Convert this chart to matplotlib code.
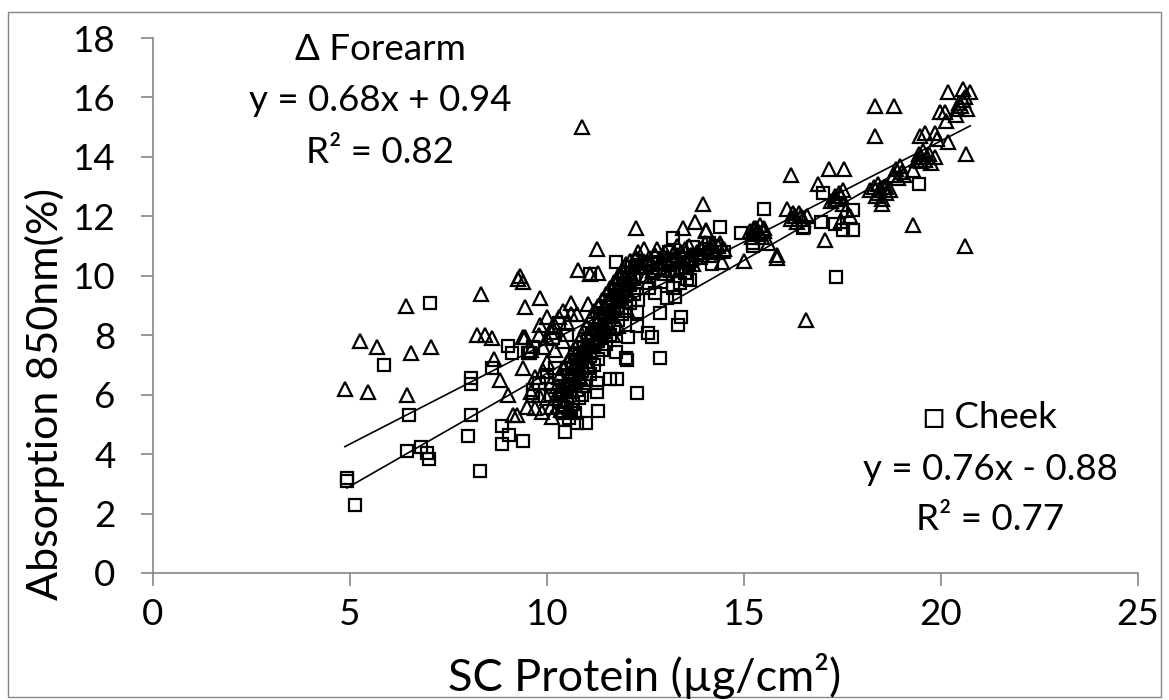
import matplotlib
matplotlib.use("Agg")
import matplotlib.pyplot as plt
from matplotlib.patches import Rectangle

# ---------------- data ----------------
forearm_x = [
    4.87, 5.25, 5.46, 5.69, 6.42, 6.45, 6.55, 7.06, 8.22, 8.43,
    8.32, 8.60, 8.66, 8.81, 9.00, 9.14, 9.23, 9.27, 9.31, 9.39,
    9.44, 9.82, 9.39, 9.80, 9.82, 9.49, 9.70, 9.87, 10.13, 9.39,
    9.70, 9.44, 9.60, 10.13, 10.00, 10.60, 10.79, 11.04, 11.09, 11.27,
    11.29, 10.76, 10.90, 12.26,
    10.20, 10.25, 10.30, 10.30, 10.35, 10.40, 10.40, 10.45, 10.50, 10.50,
    10.55, 10.60, 10.60, 10.65, 10.70, 10.70, 10.75, 10.80, 10.80, 10.85,
    10.90, 10.90, 10.95, 11.00, 11.00, 11.05, 11.10, 11.10, 11.15, 11.20,
    11.20, 11.25, 11.30, 11.30, 11.35, 11.40, 11.40, 11.45, 11.50, 11.50,
    11.55, 11.60, 11.60, 11.65, 11.70, 11.70, 11.75, 11.80, 11.80, 11.85,
    11.90, 11.90, 11.95, 12.00, 12.00, 12.05, 12.10, 12.10, 12.20, 12.25,
    9.90, 10.00, 10.10, 10.20, 10.30, 10.40, 10.50, 10.60, 10.20, 10.40,
    9.60, 9.80, 10.00, 10.10, 9.90, 10.00, 10.10, 10.35, 10.55,
    12.03, 12.56, 12.30, 12.40, 12.50, 12.60, 12.70, 12.80, 12.90, 13.00,
    13.00, 13.10, 13.20, 13.25, 13.30, 13.35, 13.40, 13.45, 13.50, 13.55,
    13.60, 13.70, 13.76, 13.96, 13.80, 14.00, 14.05, 14.10, 14.20, 14.30,
    14.40, 14.44, 14.04, 14.50, 14.03, 11.67, 11.80,
    15.00, 15.15, 15.20, 15.25, 15.30, 15.35, 15.40, 15.45, 15.50, 15.60,
    15.84, 15.84, 16.09, 16.20, 16.20, 16.30, 16.35, 16.40, 16.50, 16.57,
    16.60, 17.06, 17.16, 17.54, 16.88, 17.20, 17.30, 17.36, 17.40, 17.50,
    17.50, 17.60, 17.70, 17.45, 18.20, 18.30, 18.35, 18.40, 18.45, 18.50,
    18.55, 18.60, 18.70, 18.50, 18.33, 18.80, 18.33, 18.80, 18.85, 18.90,
    18.95, 19.00, 19.05, 19.30, 19.29, 19.40, 19.45, 19.50, 19.55, 19.60,
    19.70, 19.75, 19.85, 19.47, 19.60, 19.85, 19.90, 19.97, 20.10, 20.13,
    20.18, 20.18, 20.38, 20.40, 20.45, 20.56, 20.60, 20.63, 20.60, 20.74,
    20.65,
    10.45, 10.50, 10.60, 10.70, 10.75, 10.85, 10.90, 11.00, 11.05, 11.15,
    11.25, 11.35, 11.45, 11.55, 11.65, 11.75, 11.85, 11.95, 12.05, 12.15,
    12.35, 12.45, 12.65, 12.75, 12.85, 12.95, 13.05, 13.15, 13.30, 13.40,
    13.50, 13.65, 13.90, 14.15, 14.35,
    15.30, 15.40, 15.50, 16.25, 16.45, 17.30, 17.45, 18.40, 18.60, 19.50,
    19.65, 20.50, 20.55,
]
forearm_y = [
    6.20, 7.80, 6.10, 7.60, 9.00, 6.00, 7.40, 7.60, 8.00, 8.00,
    9.40, 7.90, 7.20, 6.50, 6.00, 5.30, 5.30, 9.90, 10.00, 9.80,
    8.95, 9.25, 7.94, 8.00, 8.34, 5.60, 5.55, 5.43, 5.25, 6.90,
    6.60, 7.94, 7.50, 8.28, 8.60, 9.10, 10.20, 9.05, 10.05, 10.90,
    10.10, 8.70, 15.00, 11.60,
    5.90, 6.30, 6.00, 6.60, 6.20, 6.90, 5.80, 6.40, 7.10, 6.00,
    6.70, 7.30, 6.20, 6.90, 7.60, 6.50, 7.10, 7.80, 6.80, 7.40,
    8.00, 7.00, 7.60, 8.30, 7.30, 7.90, 8.50, 7.50, 8.10, 8.80,
    7.80, 8.40, 9.00, 8.10, 8.60, 9.20, 8.30, 8.90, 9.40, 8.50,
    9.10, 9.60, 8.80, 9.30, 9.80, 9.00, 9.50, 10.00, 9.20, 9.70,
    10.20, 9.40, 9.90, 10.40, 9.60, 10.10, 10.50, 9.80, 10.30, 10.60,
    7.60, 7.90, 8.10, 8.30, 8.60, 8.80, 8.40, 8.70, 7.50, 7.80,
    6.10, 6.00, 5.90, 6.40, 6.80, 7.10, 5.60, 5.50, 5.60,
    8.85, 9.80, 10.80, 10.30, 10.00, 10.60, 10.20, 10.90, 10.50, 10.10,
    10.80, 10.40, 10.70, 10.20, 11.00, 10.50, 10.80, 11.60, 10.30, 10.60,
    11.00, 10.40, 11.80, 12.40, 10.80, 11.10, 10.90, 10.70, 11.00, 10.80,
    11.10, 10.45, 11.50, 10.90, 11.55, 8.00, 8.30,
    10.50, 11.50, 11.30, 11.60, 11.40, 11.50, 11.70, 11.30, 11.60, 11.10,
    10.60, 10.70, 12.25, 13.40, 11.90, 12.00, 11.80, 12.10, 11.90, 8.50,
    12.00, 11.20, 13.60, 13.60, 13.10, 12.50, 12.70, 12.60, 12.80, 12.40,
    12.90, 12.20, 12.00, 11.85, 12.90, 13.00, 12.70, 13.10, 12.90, 12.60,
    13.00, 12.80, 12.90, 12.40, 15.70, 15.70, 14.70, 13.40, 13.60, 13.30,
    13.70, 13.50, 13.40, 13.55, 11.70, 13.90, 14.10, 14.00, 14.20, 13.90,
    14.10, 13.80, 14.00, 14.70, 14.80, 14.80, 14.60, 15.50, 15.50, 15.20,
    14.50, 16.20, 15.40, 15.60, 15.80, 16.30, 16.00, 14.10, 11.00, 16.20,
    15.60,
    5.70, 6.50, 6.80, 7.00, 6.20, 6.60, 7.30, 7.70, 7.00, 7.70,
    7.90, 8.20, 8.40, 8.70, 8.90, 9.20, 9.40, 9.60, 9.80, 10.00,
    10.50, 10.90, 10.40, 10.70, 10.30, 10.70, 10.60, 10.20, 10.70, 10.30,
    10.90, 10.70, 10.90, 10.90, 11.00,
    11.60, 11.45, 11.50, 12.10, 12.00, 12.60, 12.70, 12.80, 13.00, 13.85,
    14.00, 15.70, 15.90,
]

cheek_x = [
    4.92, 4.92, 5.13, 5.86, 6.50, 6.45, 6.80, 6.95, 7.00, 7.03,
    8.07, 8.07, 8.07, 8.00, 8.30, 8.60, 8.86, 9.04, 8.86, 9.01,
    9.10, 9.39, 9.57, 9.64, 9.64, 10.46, 10.76, 10.99, 10.71, 11.29,
    11.27, 11.27, 11.60, 11.78, 11.75, 12.00, 12.03, 12.28, 12.87, 12.66,
    12.56, 12.06, 12.28, 12.28, 12.87, 13.25, 13.40, 13.32, 12.74, 13.04,
    13.55, 13.37, 12.31, 12.69, 13.68, 13.20, 13.70, 13.63, 14.20, 14.40,
    14.92, 15.23, 15.23, 15.50, 16.50, 16.52, 16.95, 17.00, 17.30, 17.51,
    17.77, 17.77, 17.33, 19.44, 11.75, 11.09,
    10.30, 10.35, 10.40, 10.45, 10.50, 10.55, 10.60, 10.60, 10.65, 10.70,
    10.75, 10.80, 10.80, 10.85, 10.90, 10.95, 11.00, 11.00, 11.05, 11.10,
    11.15, 11.20, 11.25, 11.30, 11.35, 11.40, 11.45, 11.50, 11.55, 11.60,
    11.65, 11.70, 11.75, 11.80, 11.85, 11.90, 11.95, 12.00, 12.05, 12.10,
    12.15, 12.20, 12.30,
    9.80, 10.00, 10.10, 10.20, 10.15, 9.52, 9.64, 10.30, 10.50,
    12.50, 12.80, 13.00, 13.10, 13.30, 13.45, 13.60, 13.80, 14.00, 14.30,
    14.50, 13.20, 12.90, 12.60,
    10.40, 10.50, 10.55, 10.65, 10.70, 10.90, 10.95, 11.05, 11.10, 11.20,
    11.30, 11.40, 11.50, 11.60, 11.70, 11.80, 11.90, 12.00, 12.10, 12.20,
    12.40, 12.70, 13.20, 13.50, 13.90, 14.20, 14.10,
]
cheek_y = [
    3.20, 3.10, 2.30, 7.00, 5.30, 4.10, 4.25, 4.05, 3.85, 9.10,
    6.55, 6.35, 5.30, 4.60, 3.43, 6.90, 4.95, 4.65, 4.35, 7.65,
    7.40, 4.45, 7.40, 6.15, 5.95, 4.75, 5.04, 5.04, 5.40, 5.44,
    6.10, 6.40, 6.52, 6.52, 7.43, 7.23, 7.17, 6.05, 7.23, 7.94,
    8.07, 7.94, 8.30, 8.78, 8.75, 9.30, 8.60, 8.34, 9.42, 9.25,
    9.90, 9.75, 9.19, 10.10, 10.50, 11.27, 10.97, 9.85, 10.40, 11.65,
    11.45, 11.00, 11.10, 12.25, 11.60, 11.65, 11.80, 12.80, 11.75, 11.55,
    11.55, 12.20, 9.95, 13.10, 10.45, 10.05,
    5.60, 6.00, 5.40, 6.30, 5.80, 6.60, 5.50, 6.10, 6.90, 6.30,
    7.10, 5.90, 6.60, 7.30, 6.80, 7.60, 6.50, 7.10, 7.80, 7.30,
    8.00, 7.60, 8.20, 7.80, 8.50, 8.00, 8.70, 8.30, 9.00, 8.60,
    9.20, 8.80, 9.50, 9.00, 9.70, 9.30, 9.90, 9.50, 10.10, 9.70,
    10.30, 9.90, 10.50,
    6.40, 6.60, 6.00, 6.90, 7.90, 7.40, 7.60, 8.40, 8.00,
    10.30, 10.60, 10.40, 10.80, 10.20, 10.60, 10.40, 10.70, 10.90, 11.00,
    10.80, 9.60, 9.80, 9.60,
    6.10, 6.90, 5.20, 5.70, 7.40, 6.00, 6.30, 6.90, 6.70, 7.00,
    7.20, 7.50, 7.70, 8.00, 8.20, 8.50, 8.70, 8.90, 9.10, 9.40,
    10.00, 10.40, 10.50, 10.10, 10.60, 10.80, 11.10,
]

# trendline coefficients (as printed on the chart)
forearm_fit = (0.68, 0.94)
cheek_fit = (0.76, -0.88)

forearm_label = ["\u0394 Forearm", "y = 0.68x + 0.94", "R\u00b2 = 0.82"]
cheek_label = ["\u25a1 Cheek", "y = 0.76x - 0.88", "R\u00b2 = 0.77"]

x_ticks = [0, 5, 10, 15, 20, 25]
y_ticks = [0, 2, 4, 6, 8, 10, 12, 14, 16, 18]

# ---------------- style ----------------
plt.rcParams["font.family"] = ["Lato", "DejaVu Sans"]
FS = 26.5
GRAY = "#868686"

fig = plt.figure(figsize=(11.69, 7.0), dpi=100)
ax = fig.add_axes([153 / 1169, 1 - 573 / 700, (1138 - 153) / 1169, (573 - 38) / 700])

# outer chart border
fig.patches.append(Rectangle((8 / 1169, 3 / 700), 1153 / 1169, 685 / 700,
                             transform=fig.transFigure, fill=False,
                             edgecolor=GRAY, linewidth=1.0))

ax.plot(forearm_x, forearm_y, linestyle="none", marker="^", markersize=9.5,
        markerfacecolor="none", markeredgecolor="black", markeredgewidth=1.6)
ax.plot(cheek_x, cheek_y, linestyle="none", marker="s", markersize=8.5,
        markerfacecolor="none", markeredgecolor="black", markeredgewidth=1.6)

# trendlines over each series' x range
fx = [min(forearm_x), max(forearm_x)]
ax.plot(fx, [forearm_fit[0] * v + forearm_fit[1] for v in fx], color="black", lw=1.2)
cx = [min(cheek_x), max(cheek_x)]
ax.plot(cx, [cheek_fit[0] * v + cheek_fit[1] for v in cx], color="black", lw=1.2)

ax.set_xlim(0, 25)
ax.set_ylim(0, 18)
ax.set_xticks(x_ticks)
ax.set_yticks(y_ticks)
ax.set_xticklabels([str(t) for t in x_ticks])
ax.set_yticklabels([str(t) for t in y_ticks])
for s in ["top", "right"]:
    ax.spines[s].set_visible(False)
for s in ["left", "bottom"]:
    ax.spines[s].set_color(GRAY)
    ax.spines[s].set_linewidth(1.2)
ax.tick_params(axis="both", direction="out", length=9, width=1.2, color=GRAY,
               labelsize=FS, labelcolor="black")
ax.tick_params(axis="y", pad=18)
ax.tick_params(axis="x", pad=9)

# axis titles placed where they sit in the reference
fig.text(645 / 1169, 1 - 676 / 700, "SC Protein (\u00b5g/cm\u00b2)", ha="center",
         va="center", fontsize=32.5)
fig.text(45 / 1169, 1 - 394 / 700, "Absorption 850nm(%)", ha="center",
         va="center", rotation=90, fontsize=31)

# equation annotations (figure pixel positions -> fractions)
for txt, yb in zip(forearm_label, [60, 111, 163]):
    fig.text(380 / 1169, 1 - yb / 700, txt, ha="center", va="baseline", fontsize=FS)
for txt, yb in zip(cheek_label, [428, 480, 530]):
    fig.text(990 / 1169, 1 - yb / 700, txt, ha="center", va="baseline", fontsize=FS)

fig.savefig("out.png", dpi=100)
